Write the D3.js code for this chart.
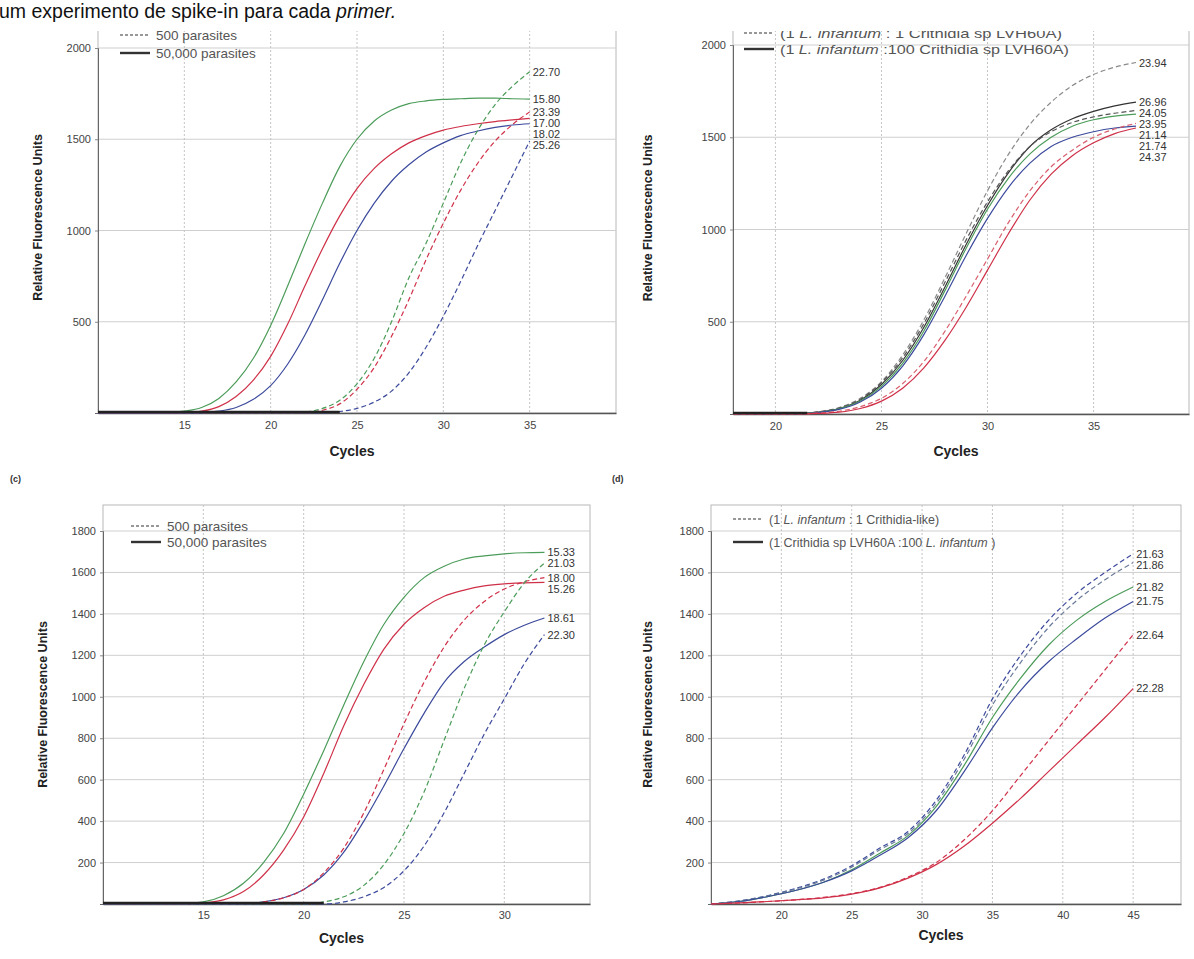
<!DOCTYPE html>
<html>
<head>
<meta charset="utf-8">
<script src="https://cdn.jsdelivr.net/npm/d3@7"></script>
<style>
  body { margin: 0; background: #fff; }
  svg { display: block; font-family: Arial, "Liberation Sans", sans-serif; }
</style>
</head>
<body>
<div class="container"></div>
<script>
// page size
const width = 1194;
const height = 959;

// ---- panel (a) data: cycles and fluorescence values ----
const cyclesA = d3.range(10, 36);
const aGreenSolid = [0, 0, 0, 0, 2, 10, 30, 80, 170, 300, 480, 700, 930, 1150, 1350, 1500, 1600, 1660, 1695, 1710, 1718, 1722, 1725, 1725, 1722, 1720];
const aRedSolid   = [0, 0, 0, 0, 0, 2, 10, 35, 90, 180, 310, 490, 700, 900, 1080, 1230, 1340, 1420, 1480, 1520, 1550, 1570, 1585, 1597, 1606, 1614];
const aBlueSolid  = [0, 0, 0, 0, 0, 0, 2, 10, 30, 75, 150, 270, 430, 620, 820, 1000, 1150, 1270, 1360, 1430, 1480, 1520, 1545, 1565, 1578, 1585];
const aGreenDash  = [0, 0, 0, 0, 0, 0, 0, 0, 0, 0, 0, 0, 5, 25, 70, 160, 300, 500, 740, 930, 1150, 1370, 1550, 1690, 1790, 1870];
const aRedDash    = [0, 0, 0, 0, 0, 0, 0, 0, 0, 0, 0, 0, 0, 15, 50, 130, 250, 420, 620, 840, 1040, 1220, 1370, 1490, 1580, 1650];
const aBlueDash   = [0, 0, 0, 0, 0, 0, 0, 0, 0, 0, 0, 0, 0, 0, 8, 25, 60, 120, 220, 360, 530, 720, 920, 1110, 1300, 1490];
const aLabels = ["15.80", "17.00", "18.02", "22.70", "23.39", "25.26"];

// ---- panel (b) ----
const cyclesB = d3.range(18, 38);
const bGrayDash   = [0, 0, 0, 2, 12, 35, 85, 175, 320, 510, 740, 980, 1210, 1410, 1570, 1690, 1780, 1840, 1880, 1905];
const bBlackSolid = [0, 0, 0, 2, 10, 30, 75, 160, 290, 470, 690, 920, 1130, 1310, 1450, 1540, 1600, 1640, 1670, 1690];
const bBlackDash  = [0, 0, 0, 2, 10, 32, 80, 170, 305, 490, 715, 945, 1150, 1320, 1450, 1530, 1580, 1610, 1630, 1645];
const bGreenSolid = [0, 0, 0, 1, 8, 28, 70, 150, 275, 450, 670, 900, 1110, 1280, 1410, 1500, 1560, 1595, 1615, 1625];
const bBlueSolid  = [0, 0, 0, 1, 8, 25, 65, 140, 260, 430, 640, 860, 1060, 1230, 1360, 1450, 1500, 1530, 1550, 1560];
const bRedDash    = [0, 0, 0, 0, 5, 15, 40, 85, 165, 285, 450, 640, 840, 1040, 1210, 1340, 1430, 1500, 1545, 1575];
const bRedSolid   = [0, 0, 0, 0, 3, 10, 30, 70, 140, 250, 400, 580, 780, 980, 1160, 1300, 1400, 1470, 1520, 1550];
const bLabels = ["23.94", "26.96", "24.05", "23.95", "21.74", "21.14", "24.37"];

// ---- panel (c) ----
const cyclesC = d3.range(10, 33);
const cGreenSolid = [0, 0, 0, 0, 2, 10, 40, 100, 200, 340, 530, 740, 960, 1170, 1350, 1480, 1575, 1630, 1665, 1680, 1690, 1695, 1697];
const cRedSolid   = [0, 0, 0, 0, 0, 5, 20, 60, 140, 260, 420, 630, 860, 1060, 1230, 1350, 1430, 1485, 1515, 1535, 1545, 1550, 1552];
const cBlueSolid  = [0, 0, 0, 0, 0, 0, 0, 0, 10, 30, 70, 140, 250, 400, 570, 750, 920, 1070, 1170, 1240, 1300, 1345, 1380];
const cRedDash    = [0, 0, 0, 0, 0, 0, 0, 0, 10, 30, 70, 150, 270, 440, 650, 870, 1070, 1240, 1370, 1460, 1520, 1555, 1575];
const cGreenDash  = [0, 0, 0, 0, 0, 0, 0, 0, 0, 0, 0, 10, 35, 90, 190, 340, 540, 790, 1040, 1250, 1410, 1550, 1645];
const cBlueDash   = [0, 0, 0, 0, 0, 0, 0, 0, 0, 0, 0, 0, 10, 35, 80, 160, 280, 440, 630, 820, 990, 1160, 1300];
const cLabels = ["15.33", "15.26", "18.61", "18.00", "21.03", "22.30"];

// ---- panel (d) ----
const cyclesD = d3.range(15, 46, 2);
const dBlueDash   = [0, 15, 40, 75, 120, 185, 270, 350, 500, 720, 990, 1200, 1370, 1500, 1600, 1690];
const dGrayDash   = [0, 14, 38, 72, 115, 178, 262, 340, 485, 700, 960, 1165, 1335, 1465, 1565, 1648];
const dGreenSolid = [0, 12, 35, 65, 105, 165, 245, 330, 470, 670, 900, 1090, 1250, 1370, 1460, 1530];
const dBlueSolid  = [0, 12, 35, 65, 105, 160, 235, 320, 450, 640, 850, 1030, 1170, 1280, 1380, 1460];
const dRedDash    = [0, 5, 12, 20, 32, 50, 80, 130, 200, 310, 450, 620, 790, 960, 1130, 1300];
const dRedSolid   = [0, 5, 12, 20, 30, 48, 78, 125, 190, 280, 390, 510, 640, 770, 900, 1040];
const dLabels = ["21.63", "21.86", "21.82", "21.75", "22.64", "22.28"];

// colours
const green = "#4c9c5a", red = "#cf3048", blue = "#3c4a9c";

const svg = d3.select(".container")
  .append("svg")
  .attr("width", width)
  .attr("height", height);

// draw one panel
function drawPanel(p) {
  const x = d3.scaleLinear().domain(p.xDomain).range([p.left, p.right]);
  const y = d3.scaleLinear().domain(p.yDomain).range([p.bottom, p.yTop]);

  const g = svg.append("g");

  // frame
  g.append("rect")
    .attr("x", p.left).attr("y", p.top)
    .attr("width", p.right - p.left).attr("height", p.bottom - p.top)
    .attr("fill", "#fff").attr("stroke", "#b8b8b8");

  // grid lines
  g.append("g").selectAll("line").data(p.yTicks).join("line")
    .attr("x1", p.left).attr("x2", p.right)
    .attr("y1", d => y(d)).attr("y2", d => y(d))
    .attr("stroke", "#cfcfcf");
  g.append("g").selectAll("line").data(p.xTicks).join("line")
    .attr("y1", p.top).attr("y2", p.bottom)
    .attr("x1", d => x(d)).attr("x2", d => x(d))
    .attr("stroke", "#c4c4c4").attr("stroke-dasharray", "2,2");

  // axes
  g.append("g")
    .attr("transform", `translate(${p.left},0)`)
    .call(d3.axisLeft(y).tickValues(p.yTicks).tickFormat(d3.format("d")).tickSize(3).tickPadding(4))
    .call(a => a.select(".domain").attr("stroke", "#666"))
    .call(a => a.selectAll("line").attr("stroke", "#888"))
    .call(a => a.selectAll("text").attr("font-size", 11).attr("fill", "#444"));
  g.append("g")
    .attr("transform", `translate(0,${p.bottom})`)
    .call(d3.axisBottom(x).tickValues(p.xTicks).tickSize(0).tickPadding(p.xPad))
    .call(a => a.select(".domain").attr("stroke", "#555").attr("stroke-width", 1.5))
    .call(a => a.selectAll("text").attr("font-size", 11).attr("fill", "#444"));

  // curves
  const line = d3.line()
    .x(d => x(d[0]))
    .y(d => y(d[1]))
    .curve(d3.curveMonotoneX);

  p.series.forEach(s => {
    g.append("path")
      .datum(p.cycles.map((c, i) => [c, s.values[i]]))
      .attr("fill", "none")
      .attr("stroke", s.color)
      .attr("stroke-width", 1.2)
      .attr("stroke-dasharray", s.dash ? "5,3" : null)
      .attr("d", line);
  });

  // dark baseline where curves sit on zero
  g.append("line")
    .attr("x1", p.left).attr("x2", x(p.baseEnd))
    .attr("y1", p.bottom - 1).attr("y2", p.bottom - 1)
    .attr("stroke", "#222").attr("stroke-width", 2.5);

  // end labels, spaced so they do not overlap
  const lastC = p.cycles[p.cycles.length - 1];
  const ends = p.series.map(s => ({ label: s.label, y: y(s.values[s.values.length - 1]) }))
    .sort((a, b) => a.y - b.y);
  for (let i = 1; i < ends.length; i++) {
    if (ends[i].y - ends[i - 1].y < 11) ends[i].y = ends[i - 1].y + 11;
  }
  g.append("g").selectAll("text").data(ends).join("text")
    .attr("x", x(lastC) + 3)
    .attr("y", d => d.y + 4)
    .attr("font-size", 11)
    .attr("fill", "#333")
    .text(d => d.label);

  // axis titles
  g.append("text")
    .attr("transform", `translate(${p.yTitleX},${(p.top + p.bottom) / 2}) rotate(-90)`)
    .attr("text-anchor", "middle")
    .attr("font-size", 12.5).attr("font-weight", "bold").attr("fill", "#222")
    .text("Relative Fluorescence Units");
  g.append("text")
    .attr("x", (p.left + p.right) / 2 - 5)
    .attr("y", p.cyclesY)
    .attr("text-anchor", "middle")
    .attr("font-size", 14).attr("font-weight", "bold").attr("fill", "#222")
    .text("Cycles");

  // legend
  const lg = g.append("g");
  p.legend.forEach((item, i) => {
    const ly = p.legendY + i * p.legendGap;
    lg.append("line")
      .attr("x1", p.legendX).attr("x2", p.legendX + 30)
      .attr("y1", ly).attr("y2", ly)
      .attr("stroke", "#333").attr("stroke-width", item.dash ? 1.2 : 2.4)
      .attr("stroke-dasharray", item.dash ? "3,2" : null);
    const t = lg.append("text")
      .attr("x", p.legendX + 36).attr("y", ly + 4.5)
      .attr("font-size", p.legendFont).attr("fill", "#555");
    if (p.legendLen) t.attr("textLength", p.legendLen[i]).attr("lengthAdjust", "spacingAndGlyphs");
    item.parts.forEach(part => {
      t.append("tspan").attr("font-style", part[1] ? "italic" : null).text(part[0]);
    });
  });

  if (p.tag) {
    svg.append("text")
      .attr("x", p.tag[1]).attr("y", p.tag[2])
      .attr("font-size", 9).attr("font-weight", "bold").attr("fill", "#333")
      .text(p.tag[0]);
  }
}

const parasiteLegend = [
  { dash: true, parts: [["500 parasites", false]] },
  { dash: false, parts: [["50,000 parasites", false]] }
];

drawPanel({
  left: 98, right: 616, top: 22, bottom: 413, yTop: 48,
  xDomain: [10, 40], yDomain: [0, 2000],
  xTicks: [15, 20, 25, 30, 35], yTicks: [500, 1000, 1500, 2000],
  cycles: cyclesA, baseEnd: 24, xPad: 8, cyclesY: 456,
  series: [
    { values: aGreenSolid, color: green, dash: false, label: aLabels[0] },
    { values: aRedSolid, color: red, dash: false, label: aLabels[1] },
    { values: aBlueSolid, color: blue, dash: false, label: aLabels[2] },
    { values: aGreenDash, color: green, dash: true, label: aLabels[3] },
    { values: aRedDash, color: red, dash: true, label: aLabels[4] },
    { values: aBlueDash, color: blue, dash: true, label: aLabels[5] }
  ],
  yTitleX: 42,
  legend: parasiteLegend, legendX: 120, legendY: 35, legendGap: 18, legendFont: 13.5
});

drawPanel({
  left: 733, right: 1189, top: 22, bottom: 414, yTop: 45,
  xDomain: [18, 39.5], yDomain: [0, 2000],
  xTicks: [20, 25, 30, 35], yTicks: [500, 1000, 1500, 2000],
  cycles: cyclesB, baseEnd: 21.5, xPad: 8, cyclesY: 456,
  series: [
    { values: bGrayDash, color: "#8a8a8a", dash: true, label: bLabels[0] },
    { values: bBlackSolid, color: "#333", dash: false, label: bLabels[1] },
    { values: bBlackDash, color: "#555", dash: true, label: bLabels[2] },
    { values: bGreenSolid, color: green, dash: false, label: bLabels[3] },
    { values: bBlueSolid, color: blue, dash: false, label: bLabels[4] },
    { values: bRedDash, color: "#d8606e", dash: true, label: bLabels[5] },
    { values: bRedSolid, color: red, dash: false, label: bLabels[6] }
  ],
  yTitleX: 652,
  legend: [
    { dash: true, parts: [["(1 ", false], ["L. infantum", true], [" : 1 Crithidia sp LVH60A)", false]] },
    { dash: false, parts: [["(1 ", false], ["L. infantum", true], [" :100 Crithidia sp LVH60A)", false]] }
  ],
  legendX: 744, legendY: 33, legendGap: 16, legendFont: 13, legendLen: [282, 289]
});

drawPanel({
  left: 103, right: 590, top: 505, bottom: 904, yTop: 531,
  xDomain: [10, 34.27], yDomain: [0, 1800],
  xTicks: [15, 20, 25, 30], yTicks: d3.range(200, 1801, 200),
  cycles: cyclesC, baseEnd: 21, xPad: 7, cyclesY: 943,
  series: [
    { values: cGreenSolid, color: green, dash: false, label: cLabels[0] },
    { values: cRedSolid, color: red, dash: false, label: cLabels[1] },
    { values: cBlueSolid, color: blue, dash: false, label: cLabels[2] },
    { values: cRedDash, color: red, dash: true, label: cLabels[3] },
    { values: cGreenDash, color: green, dash: true, label: cLabels[4] },
    { values: cBlueDash, color: blue, dash: true, label: cLabels[5] }
  ],
  yTitleX: 47,
  legend: parasiteLegend, legendX: 131, legendY: 526, legendGap: 16, legendFont: 13.5,
  tag: ["(c)", 10, 482]
});

drawPanel({
  left: 711, right: 1181, top: 505, bottom: 904, yTop: 531,
  xDomain: [15, 48.4], yDomain: [0, 1800],
  xTicks: [20, 25, 30, 35, 40, 45], yTicks: d3.range(200, 1801, 200),
  cycles: cyclesD, baseEnd: 15, xPad: 7, cyclesY: 940,
  series: [
    { values: dBlueDash, color: blue, dash: true, label: dLabels[0] },
    { values: dGrayDash, color: "#6a7a9a", dash: true, label: dLabels[1] },
    { values: dGreenSolid, color: green, dash: false, label: dLabels[2] },
    { values: dBlueSolid, color: blue, dash: false, label: dLabels[3] },
    { values: dRedDash, color: red, dash: true, label: dLabels[4] },
    { values: dRedSolid, color: red, dash: false, label: dLabels[5] }
  ],
  yTitleX: 652,
  legend: [
    { dash: true, parts: [["(1 ", false], ["L. infantum", true], [" : 1 Crithidia-like)", false]] },
    { dash: false, parts: [["(1 Crithidia sp LVH60A :100 ", false], ["L. infantum", true], [" )", false]] }
  ],
  legendX: 733, legendY: 519, legendGap: 23, legendFont: 12.5,
  tag: ["(d)", 612, 482]
});

// header strip with the caption text cut from the page above
svg.append("rect").attr("x", 0).attr("y", 0).attr("width", width).attr("height", 31).attr("fill", "#fff");
const header = svg.append("text").attr("x", -1).attr("y", 18).attr("font-size", 19.5).attr("fill", "#111");
header.append("tspan").text("um experimento de spike-in para cada ");
header.append("tspan").attr("font-style", "italic").text("primer.");
</script>
</body>
</html>
